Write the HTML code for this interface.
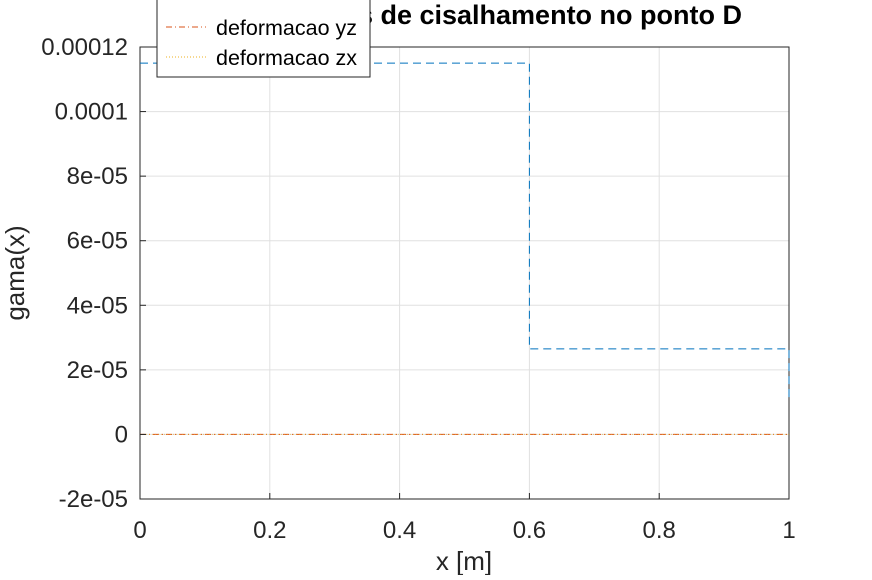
<!DOCTYPE html>
<html><head><meta charset="utf-8"><style>body{margin:0;background:#fff}svg{font-family:"Liberation Sans",sans-serif}</style></head>
<body>
<svg width="872" height="575" viewBox="0 0 872 575">
<g id="grid"></g>
<rect x="140" y="47" width="649" height="452" fill="none" stroke="#262626" stroke-width="1"/>
<g id="series"></g>
<g id="ticks"></g>
<text x="742" y="24" text-anchor="end" font-size="27" font-weight="bold" fill="#000">Deformacoes de cisalhamento no ponto D</text>
<text x="464" y="570" text-anchor="middle" font-size="26" fill="#262626">x [m]</text>
<text transform="translate(24,273) rotate(-90)" text-anchor="middle" font-size="26" fill="#262626">gama(x)</text>
<g>
<rect x="157" y="-20" width="213" height="97" fill="#fff" stroke="#262626"/>
<line x1="166" y1="-3" x2="206" y2="-3" stroke="#0072bd" stroke-dasharray="6,4"/>
<line x1="166" y1="27" x2="206" y2="27" stroke="#d95319" stroke-dasharray="6,3,1,3"/>
<text x="216" y="35" font-size="21.5" fill="#000">deformacao yz</text>
<line x1="166" y1="57" x2="206" y2="57" stroke="#edb120" stroke-dasharray="1,2"/>
<text x="216" y="65" font-size="21.5" fill="#000">deformacao zx</text>
</g>
</svg>
<script>
const xTicks=[0,0.2,0.4,0.6,0.8,1];
const xTickLabels=["0","0.2","0.4","0.6","0.8","1"];
const yTicks=[-2e-5,0,2e-5,4e-5,6e-5,8e-5,1e-4,1.2e-4];
const yTickLabels=["-2e-05","0","2e-05","4e-05","6e-05","8e-05","0.0001","0.00012"];
const xyX=[0,0.6,0.6,1,1];
const xyY=[1.15e-4,1.15e-4,2.65e-5,2.65e-5,1.0e-5];
const yzX=[0,1];const yzY=[0,0];
const zxX=[0,1];const zxY=[0,0];
const X0=140,X1=789,YT=47,YB=499;
const sx=v=>X0+(v-0)/(1-0)*(X1-X0);
const sy=v=>YB-(v+2e-5)/(1.4e-4)*(YB-YT);
const NS="http://www.w3.org/2000/svg";
function mk(tag,a,parent){const e=document.createElementNS(NS,tag);for(const k in a)e.setAttribute(k,a[k]);document.getElementById(parent).appendChild(e);return e;}
xTicks.forEach((t,i)=>{
 const g=mk('line',{x1:sx(t),x2:sx(t),y1:YT,y2:YB,stroke:'#e0e0e0'},'grid');
 
 
 const k=mk('line',{x1:sx(t),x2:sx(t),y1:YB,y2:YB-6,stroke:'#262626'},'ticks');
 
 
 const l=mk('text',{x:sx(t),y:YB+39,'text-anchor':'middle','font-size':24,fill:'#262626'},'ticks');
 l.textContent=xTickLabels[i];
 
 
});
yTicks.forEach((t,i)=>{
 const g=mk('line',{x1:X0,x2:X1,y1:sy(t),y2:sy(t),stroke:'#e0e0e0'},'grid');
 
 
 const k=mk('line',{x1:X0,x2:X0+6,y1:sy(t),y2:sy(t),stroke:'#262626'},'ticks');
 
 
 const l=mk('text',{x:X0-12,y:sy(t)+8,'text-anchor':'end','font-size':24,fill:'#262626'},'ticks');
 l.textContent=yTickLabels[i];
 
 
});
function pts(xs,ys){return xs.map((x,i)=>sx(x)+','+sy(ys[i])).join(' ');}
const p1=mk('polyline',{points:pts(xyX,xyY),fill:'none',stroke:'#0072bd','stroke-dasharray':'8,5'},'series');


const p2=mk('polyline',{points:pts(yzX,yzY),fill:'none',stroke:'#d95319','stroke-dasharray':'6,3,1,3'},'series');


const p3=mk('polyline',{points:pts(zxX,zxY),fill:'none',stroke:'#edb120','stroke-dasharray':'1,2','stroke-opacity':0.6},'series');


</script>
</body></html>
